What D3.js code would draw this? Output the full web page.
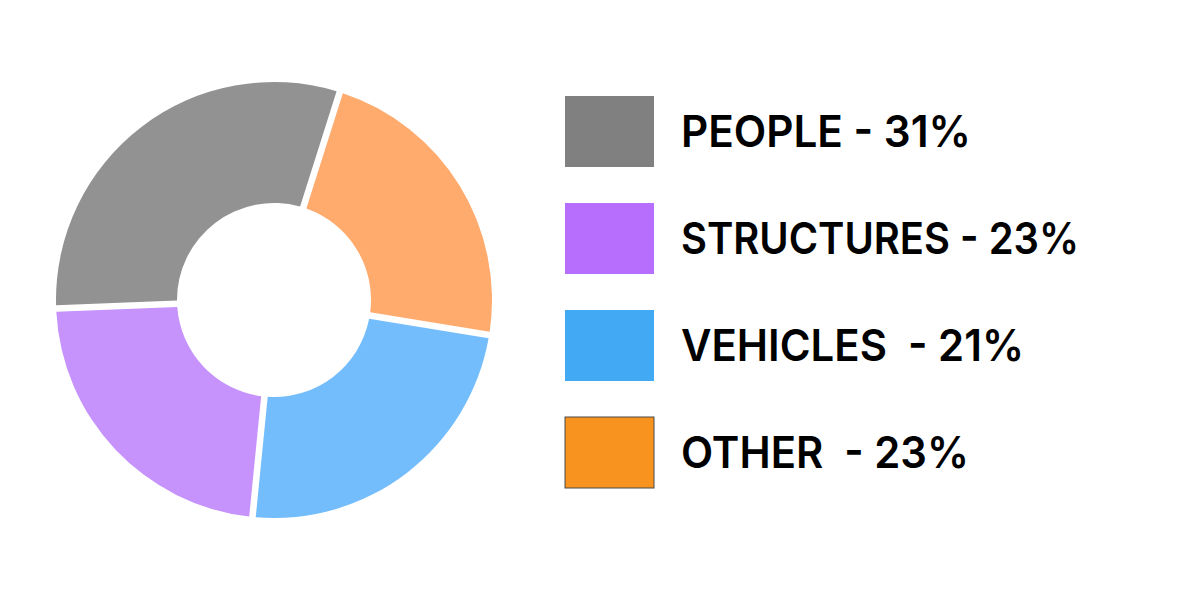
<!DOCTYPE html>
<html>
<head>
<meta charset="utf-8">
<script src="https://cdn.jsdelivr.net/npm/d3@7"></script>
<style>
  html, body { margin: 0; padding: 0; background: #fff; }
  svg { display: block; }
</style>
</head>
<body>
<svg id="chart" width="1200" height="600"></svg>
<script>
// Categories in clockwise drawing order of the ring
const categories = ["PEOPLE", "OTHER", "VEHICLES", "STRUCTURES"];
// Slice shares as read from the ring (percent)
const sliceValues = [30.5, 22.7, 24.0, 22.8];
// Legend entries (top to bottom) and their printed text
const legendKeys = ["PEOPLE", "STRUCTURES", "VEHICLES", "OTHER"];
const legendTexts = ["PEOPLE - 31%", "STRUCTURES - 23%", "VEHICLES  - 21%", "OTHER  - 23%"];
const legendWidths = [290, 398, 343, 288];

const sliceColor = d3.scaleOrdinal()
  .domain(["PEOPLE", "STRUCTURES", "VEHICLES", "OTHER"])
  .range(["#929292", "#c692fc", "#74bdfd", "#ffab6e"]);
const legendColor = d3.scaleOrdinal()
  .domain(["PEOPLE", "STRUCTURES", "VEHICLES", "OTHER"])
  .range(["#808080", "#b86efd", "#42a9f5", "#f7931e"]);

const svg = d3.select("#chart");
const cx = 274, cy = 300, rOuter = 218, rInner = 97;

const startDeg = -92.25;
const pie = d3.pie().sort(null).value(d => d.v)
  .startAngle(startDeg * Math.PI / 180)
  .endAngle(startDeg * Math.PI / 180 + 2 * Math.PI);
const arc = d3.arc().innerRadius(rInner).outerRadius(rOuter)
  .padAngle(0.028).padRadius(235);

const data = categories.map((c, i) => ({ c, v: sliceValues[i] }));
svg.append("g").attr("transform", `translate(${cx},${cy})`)
  .selectAll("path").data(pie(data)).join("path")
  .attr("d", arc)
  .attr("fill", d => sliceColor(d.data.c));

// Legend
const ly = d3.scalePoint().domain(legendKeys).range([96, 417]);
const lg = svg.append("g");
legendKeys.forEach((k, i) => {
  const y = ly(k);
  lg.append("rect")
    .attr("x", 565).attr("y", y)
    .attr("width", 89).attr("height", 71)
    .attr("fill", legendColor(k))
    .attr("stroke", k === "OTHER" ? "#4a4a4a" : "none")
    .attr("stroke-width", 1);
  lg.append("text")
    .attr("x", 681).attr("y", y + 51)
    .attr("font-family", "Inter, 'Open Sans', sans-serif")
    .attr("font-weight", 600)
    .attr("font-size", 44)
    .attr("fill", "#000")
    .attr("textLength", legendWidths[i])
    .attr("lengthAdjust", "spacingAndGlyphs")
    .style("white-space", "pre")
    .text(legendTexts[i]);
});
</script>
</body>
</html>
